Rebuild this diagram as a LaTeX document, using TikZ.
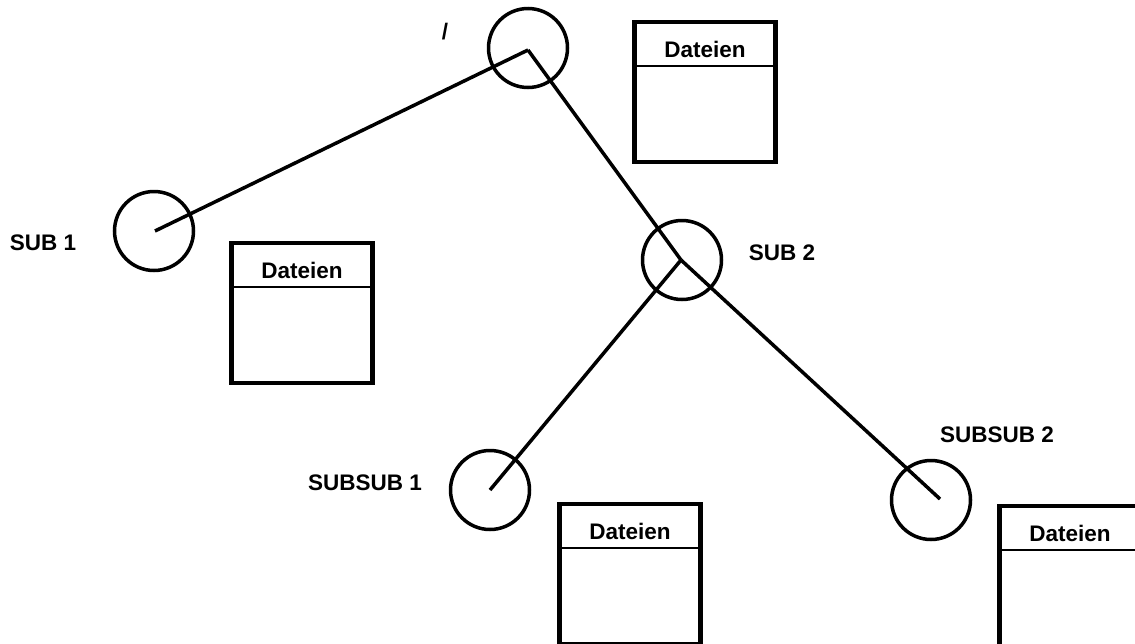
\documentclass[tikz,border=0pt]{standalone}
\usepackage{fontspec}
\setmainfont{Liberation Sans}
\usepackage{tikz}
\usetikzlibrary{positioning,calc}

\tikzset{
  dirnode/.style={draw, circle, line width=3.5pt, minimum size=79pt, inner sep=0pt},
  filebox/.style={draw, rectangle, line width=4.5pt, minimum width=141pt, minimum height=140pt, inner sep=0pt},
  dirlabel/.style={font=\fontsize{22.5}{27}\selectfont\bfseries},
  edge/.style={line width=3.5pt}
}

\begin{document}
\begin{tikzpicture}[x=1pt, y=-1pt]
\useasboundingbox (0,0) rectangle (1135,643);

% Directory circles
\node[dirnode] (root) at (528,48) {};
\node[dirnode] (sub1) at (154,231) {};
\node[dirnode] (sub2) at (682,260) {};
\node[dirnode] (subsub1) at (490,490) {};
\node[dirnode] (subsub2) at (931,500) {};

% Where the edges meet inside the circles
\coordinate (hroot) at (528,50);
\coordinate (hsub1) at (155,231);
\coordinate (hsub2) at (681,260);
\coordinate (hsubsub1) at (490,490);
\coordinate (hsubsub2) at (940,499);

% Tree edges
\draw[edge] (hroot) -- (hsub1);
\draw[edge] (hroot) -- (hsub2);
\draw[edge] (hsub2) -- (hsubsub1);
\draw[edge] (hsub2) -- (hsubsub2);

% Directory names
\node[dirlabel] (lroot) at (445,32) {/};
\node[dirlabel] (lsub1) at (43,243) {SUB 1};
\node[dirlabel] (lsub2) at (782,253) {SUB 2};
\node[dirlabel] (lsubsub1) at (365,483) {SUBSUB 1};
\node[dirlabel] (lsubsub2) at (997,435) {SUBSUB 2};

% File boxes with header line
\foreach \name/\x/\y in {droot/705/92, dsub1/302/313, dsubsub1/630/574, dsubsub2/1070/576} {
  \node[filebox] (\name) at (\x,\y) {};
  \draw[line width=2pt] ($(\name.north west)+(0,46)$) -- ($(\name.north east)+(0,46)$);
  \node[dirlabel, anchor=base] at ($(\name.north)+(0,38)$) {Dateien};
}
\end{tikzpicture}
\end{document}
